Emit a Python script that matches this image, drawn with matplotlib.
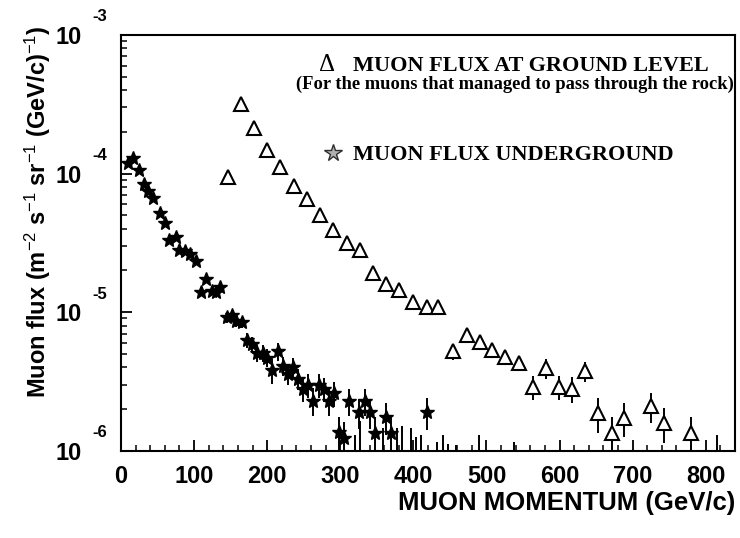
import matplotlib
matplotlib.use('Agg')
import matplotlib.pyplot as plt
import numpy as np
from matplotlib.ticker import MultipleLocator, LogLocator, NullFormatter

# underground muon flux (stars)
star_x = [10, 17, 24, 31, 37, 44, 53, 60, 66, 75, 80, 87, 94, 102, 109, 116, 124, 130, 136, 145,
          152, 158, 165, 172, 179, 186, 194, 200, 206, 215, 222, 228, 235, 242, 249, 256, 263, 271,
          278, 285, 292, 298, 305, 312, 326, 334, 341, 348, 363, 370, 419]
star_y = [1.19e-4, 1.30e-4, 1.06e-4, 8.4e-5, 7.5e-5, 6.7e-5, 5.2e-5, 4.4e-5, 3.3e-5, 3.5e-5,
          2.8e-5, 2.77e-5, 2.63e-5, 2.34e-5, 1.40e-5, 1.74e-5, 1.42e-5, 1.40e-5, 1.52e-5, 9.2e-6,
          9.5e-6, 8.6e-6, 8.5e-6, 6.3e-6, 5.9e-6, 5.1e-6, 5.1e-6, 4.7e-6, 3.8e-6, 5.2e-6,
          4.1e-6, 3.6e-6, 4.0e-6, 3.3e-6, 2.8e-6, 3.0e-6, 2.3e-6, 3.0e-6, 2.8e-6, 2.3e-6,
          2.6e-6, 1.37e-6, 1.24e-6, 2.3e-6, 1.9e-6, 2.3e-6, 1.9e-6, 1.34e-6, 1.75e-6, 1.34e-6, 1.9e-6]
star_rel = [0.03] * 19 + [0.09, 0.08, 0.09, 0.09,
                          0.13, 0.13, 0.14, 0.14, 0.15, 0.2, 0.15, 0.16, 0.17, 0.16, 0.17,
                          0.2, 0.2, 0.23, 0.2, 0.2, 0.22, 0.2, 0.28, 0.3, 0.22, 0.24, 0.22,
                          0.24, 0.3, 0.26, 0.3, 0.26]

# ground level muon flux (triangles)
tri_x = [146, 164, 182, 200, 217, 237, 254, 272, 290, 309, 327, 345, 363, 381, 400, 418, 434,
         454, 473, 491, 508, 526, 544, 563, 581, 599, 617, 635, 653, 672, 688, 725, 743, 780]
tri_y = [9.45e-5, 3.18e-4, 2.13e-4, 1.48e-4, 1.12e-4, 8.1e-5, 6.6e-5, 5.0e-5, 3.9e-5, 3.16e-5,
         2.81e-5, 1.92e-5, 1.60e-5, 1.45e-5, 1.19e-5, 1.09e-5, 1.09e-5, 5.2e-6, 6.85e-6, 6.1e-6,
         5.3e-6, 4.75e-6, 4.3e-6, 2.9e-6, 3.95e-6, 2.9e-6, 2.8e-6, 3.76e-6, 1.87e-6, 1.34e-6,
         1.73e-6, 2.1e-6, 1.59e-6, 1.34e-6]
tri_rel = [0.03] * 17 + [0.13, 0.12, 0.12, 0.12, 0.12, 0.13,
                         0.2, 0.17, 0.2, 0.21, 0.17,
                         0.28, 0.3, 0.28, 0.25, 0.28, 0.3]

# bins below the axis whose upper error bars reach into the plot
low_x = [320, 327, 358, 378, 385, 397, 403, 411, 433, 441, 447, 458, 490, 538, 816]
low_top = [1.3e-6, 1.65e-6, 1.45e-6, 1.45e-6, 1.5e-6, 1.45e-6, 1.25e-6, 1.3e-6, 1.15e-6,
           1.3e-6, 1.12e-6, 1.1e-6, 1.3e-6, 1.15e-6, 1.3e-6]

decades = [-3, -4, -5, -6]
x_ticks = [0, 100, 200, 300, 400, 500, 600, 700, 800]

plt.rcParams['font.family'] = 'Liberation Sans'
plt.rcParams['mathtext.fontset'] = 'custom'
plt.rcParams['mathtext.rm'] = 'Liberation Sans'
plt.rcParams['mathtext.it'] = 'Liberation Sans:italic'
plt.rcParams['mathtext.bf'] = 'Liberation Sans:bold'

fig = plt.figure(figsize=(7.4, 5.38), dpi=100)
ax = fig.add_axes([0.1635, 0.1623, 0.8297, 0.7726])
ax.set_yscale('log')
ax.set_xlim(0, 840)
ax.set_ylim(1e-6, 1e-3)

sy = np.array(star_y)
ax.errorbar(star_x, sy, yerr=sy * np.array(star_rel), fmt='*', ms=10, color='black',
            ecolor='black', elinewidth=1.4, capsize=0, zorder=3)
ty = np.array(tri_y)
ax.errorbar(tri_x, ty, yerr=ty * np.array(tri_rel), fmt='^', ms=10, mfc='white', mec='black',
            mew=1.5, ecolor='black', elinewidth=1.4, capsize=0, zorder=3)
ax.vlines(low_x, 1e-6, low_top, color='black', lw=1.4)

for s in ax.spines.values():
    s.set_linewidth(1.5)
ax.xaxis.set_major_locator(MultipleLocator(100))
ax.xaxis.set_minor_locator(MultipleLocator(20))
ax.yaxis.set_major_locator(LogLocator(base=10))
ax.yaxis.set_minor_locator(LogLocator(base=10, subs=np.arange(2, 10)))
ax.yaxis.set_major_formatter(NullFormatter())
ax.yaxis.set_minor_formatter(NullFormatter())
ax.tick_params(which='major', direction='in', length=8, width=1.3)
ax.tick_params(which='minor', direction='in', length=4.3, width=1.1)
ax.tick_params(axis='x', pad=10, labelsize=17)
ax.set_xticks(x_ticks)
ax.set_xticklabels([str(v) for v in x_ticks], fontweight='bold')

# ROOT style y tick labels: "10" with the exponent above
for e in decades:
    ax.annotate('10', xy=(0, 10.0 ** e), xycoords=('axes fraction', 'data'), xytext=(-38, -2),
                textcoords='offset points', ha='center', va='center', fontsize=17, fontweight='bold')
    ax.annotate(str(e), xy=(0, 10.0 ** e), xycoords=('axes fraction', 'data'), xytext=(-15, 13),
                textcoords='offset points', ha='center', va='center', fontsize=12, fontweight='bold')

fig.text(38 / 740, 1 - 212 / 538,
         r'Muon flux (m$^{-2}$ s$^{-1}$ sr$^{-1}$ (GeV/c)$^{-1}$)',
         rotation=90, ha='center', va='center', fontsize=17, fontweight='bold')
fig.text(735 / 740, 1 - 510 / 538, 'MUON MOMENTUM (GeV/c)', ha='right', va='baseline',
         fontsize=18.5, fontweight='bold')

# legend written by hand
serif = 'Liberation Serif'
fig.text(327.5 / 740, 1 - 71 / 538, '\u0394', ha='center', va='baseline', fontsize=18,
         family=serif)
fig.text(353 / 740, 1 - 71 / 538, 'MUON FLUX AT GROUND LEVEL', ha='left', va='baseline',
         fontsize=16, fontweight='bold', family=serif)
fig.text(734 / 740, 1 - 89 / 538, '(For the muons that managed to pass through the rock)',
         ha='right', va='baseline', fontsize=13.3, fontweight='bold', family=serif)
ax.plot([333 / 740], [1 - 153 / 538], marker='*', ms=13, mfc='#b0b0b0', mec='#303030', mew=1,
        transform=fig.transFigure, clip_on=False)
fig.text(353 / 740, 1 - 160 / 538, 'MUON FLUX UNDERGROUND', ha='left', va='baseline',
         fontsize=16, fontweight='bold', family=serif)

fig.savefig('out.png', dpi=100)
